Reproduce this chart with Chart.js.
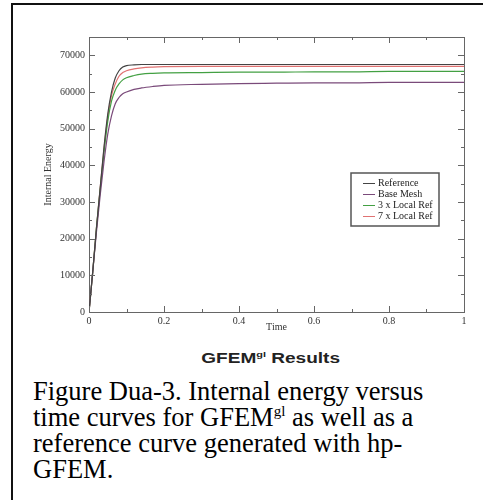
<!DOCTYPE html>
<html>
<head>
<meta charset="utf-8">
<script src="https://cdn.jsdelivr.net/npm/chart.js@4"></script>
<style>
  html, body { margin: 0; padding: 0; background: #fff; overflow: hidden; }
  body { width: 483px; height: 500px; position: relative; }
  .frame { position: absolute; left: 11px; top: 3px; width: 520px; height: 540px; border: 2px solid #111; box-sizing: border-box; }
  #chart { position: absolute; left: 0; top: 0; }
  .plotTitle {
    position: absolute; left: -6px; width: 553px; top: 350px; text-align: center;
    font: bold 14px "Liberation Sans", Arial, sans-serif; color: #222;
    transform: scaleX(1.36); transform-origin: 276px 0;
  }
  .plotTitle sup { font-size: 8px; }
  .caption {
    position: absolute; left: 33px; top: 378px; width: 450px; white-space: nowrap;
    font: 26.5px/26px "Liberation Serif", "Times New Roman", serif; color: #000;
  }
  .caption sup { font-size: 15px; line-height: 0; }
</style>
</head>
<body>
<div class="frame"></div>
<canvas id="chart" width="483" height="345"></canvas>
<div class="plotTitle">GFEM<sup>gl</sup> Results</div>
<div class="caption">Figure Dua-3. Internal energy versus<br>time curves for GFEM<sup>gl</sup> as well as a<br>reference curve generated with hp-<br>GFEM.</div>

<script>
// values
const times     = [0, 0.01, 0.02, 0.03, 0.04, 0.05, 0.06, 0.07, 0.08, 0.09, 0.1, 0.12, 0.14, 0.17, 0.2, 0.3, 0.4, 0.5, 0.6, 0.7, 0.8, 0.9, 1.0];
const reference = [0, 11000, 23000, 34000, 45000, 54000, 60000, 63800, 65800, 66800, 67200, 67400, 67500, 67500, 67500, 67500, 67500, 67500, 67500, 67500, 67500, 67500, 67500];
const baseMesh  = [0, 11000, 22000, 32000, 41000, 48500, 53500, 56800, 58500, 59500, 60000, 60700, 61100, 61500, 61800, 62100, 62300, 62400, 62500, 62500, 62600, 62600, 62600];
const local3    = [0, 11000, 23000, 33500, 43500, 52000, 57500, 60500, 62200, 63300, 63900, 64500, 64900, 65100, 65200, 65300, 65400, 65400, 65500, 65500, 65600, 65600, 65600];
const local7    = [0, 11000, 23000, 34000, 44500, 53000, 59000, 62200, 64300, 65300, 65800, 66300, 66600, 66800, 66900, 67000, 67000, 67000, 67000, 67000, 67000, 67000, 67000];

const seriesNames  = ['Reference', 'Base Mesh', '3 x Local Ref', '7 x Local Ref'];
const seriesColors = ['#444444', '#7a4a7a', '#43a043', '#e07272'];
const xTicks = [0, 0.2, 0.4, 0.6, 0.8, 1];
const yTicks = [0, 10000, 20000, 30000, 40000, 50000, 60000, 70000];

const PLOT = { left: 89, right: 464, top: 37, bottom: 312 };
const W = 483, H = 345;

function pts(ys) { return times.map((t, i) => ({ x: t, y: ys[i] })); }

/* ── inward ticks on all four sides + top/right border ── */
const boxTicks = {
  id: 'boxTicks',
  afterDraw(chart) {
    const { ctx, chartArea: a, scales: { x, y } } = chart;
    ctx.save();
    ctx.strokeStyle = '#666';
    ctx.lineWidth = 1;
    ctx.beginPath();
    ctx.moveTo(a.left, a.top + 0.5); ctx.lineTo(a.right + 0.5, a.top + 0.5);
    ctx.lineTo(a.right + 0.5, a.bottom);
    ctx.stroke();
    for (let v = 0; v <= 1.0001; v += 0.1) {
      const px = Math.round(x.getPixelForValue(v)) + 0.5;
      const len = Math.round(v * 10) % 2 === 0 ? 6 : 3;
      ctx.beginPath();
      ctx.moveTo(px, a.bottom); ctx.lineTo(px, a.bottom - len);
      ctx.moveTo(px, a.top); ctx.lineTo(px, a.top + len);
      ctx.stroke();
    }
    for (let v = 0; v <= 70000; v += 5000) {
      const py = Math.round(y.getPixelForValue(v)) + 0.5;
      const len = v % 10000 === 0 ? 6 : 3;
      ctx.beginPath();
      ctx.moveTo(a.left, py); ctx.lineTo(a.left + len, py);
      ctx.moveTo(a.right, py); ctx.lineTo(a.right - len, py);
      ctx.stroke();
    }
    ctx.restore();
  }
};

/* ── boxed legend inside the plot ── */
const boxLegend = {
  id: 'boxLegend',
  afterDraw(chart) {
    const ctx = chart.ctx;
    const bx = 351, by = 173, bw = 88, bh = 53;
    ctx.save();
    ctx.fillStyle = '#fff';
    ctx.fillRect(bx, by, bw, bh);
    ctx.strokeStyle = '#555';
    ctx.lineWidth = 1.5;
    ctx.strokeRect(bx, by, bw, bh);
    ctx.font = '10px "Liberation Serif", serif';
    ctx.textBaseline = 'middle';
    chart.data.datasets.forEach((ds, i) => {
      const ry = by + 10 + i * 11;
      ctx.strokeStyle = ds.borderColor;
      ctx.lineWidth = 1;
      ctx.beginPath();
      ctx.moveTo(363, ry + 0.5); ctx.lineTo(375, ry + 0.5);
      ctx.stroke();
      ctx.fillStyle = '#222';
      ctx.fillText(ds.label, 378, ry);
    });
    ctx.restore();
  }
};

const datasets = [reference, baseMesh, local3, local7].map((ys, i) => ({
  label: seriesNames[i],
  data: pts(ys),
  borderColor: seriesColors[i],
  borderWidth: 1.2,
  pointRadius: 0,
  cubicInterpolationMode: 'monotone',
  fill: false
}));

const tickFont = { family: '"Liberation Serif", serif', size: 10 };

new Chart(document.getElementById('chart'), {
  type: 'line',
  data: { datasets },
  options: {
    responsive: false,
    devicePixelRatio: 1,
    animation: false,
    layout: { padding: { left: 0, top: PLOT.top, right: W - PLOT.right, bottom: 0 } },
    plugins: { legend: { display: false }, tooltip: { enabled: false } },
    scales: {
      x: {
        type: 'linear', min: 0, max: 1,
        afterFit: s => { s.height = H - PLOT.bottom; },
        afterBuildTicks: s => { s.ticks = xTicks.map(v => ({ value: v })); },
        ticks: { font: tickFont, color: '#333', padding: 3, maxRotation: 0, callback: v => String(v) },
        grid: { display: false, drawTicks: false },
        border: { display: true, color: '#666', width: 1 },
        title: { display: true, text: 'Time', font: tickFont, color: '#333', padding: { top: 12, bottom: 12 } }
      },
      y: {
        type: 'linear', min: 0, max: 75000,
        afterFit: s => { s.width = PLOT.left; },
        afterBuildTicks: s => { s.ticks = yTicks.map(v => ({ value: v })); },
        ticks: { font: tickFont, color: '#333', padding: 4, callback: v => String(v) },
        grid: { display: false, drawTicks: false },
        border: { display: true, color: '#666', width: 1 },
        title: { display: true, text: 'Internal Energy', font: tickFont, color: '#333', padding: { top: 42, bottom: 42 } }
      }
    }
  },
  plugins: [boxTicks, boxLegend]
});
</script>
</body>
</html>
